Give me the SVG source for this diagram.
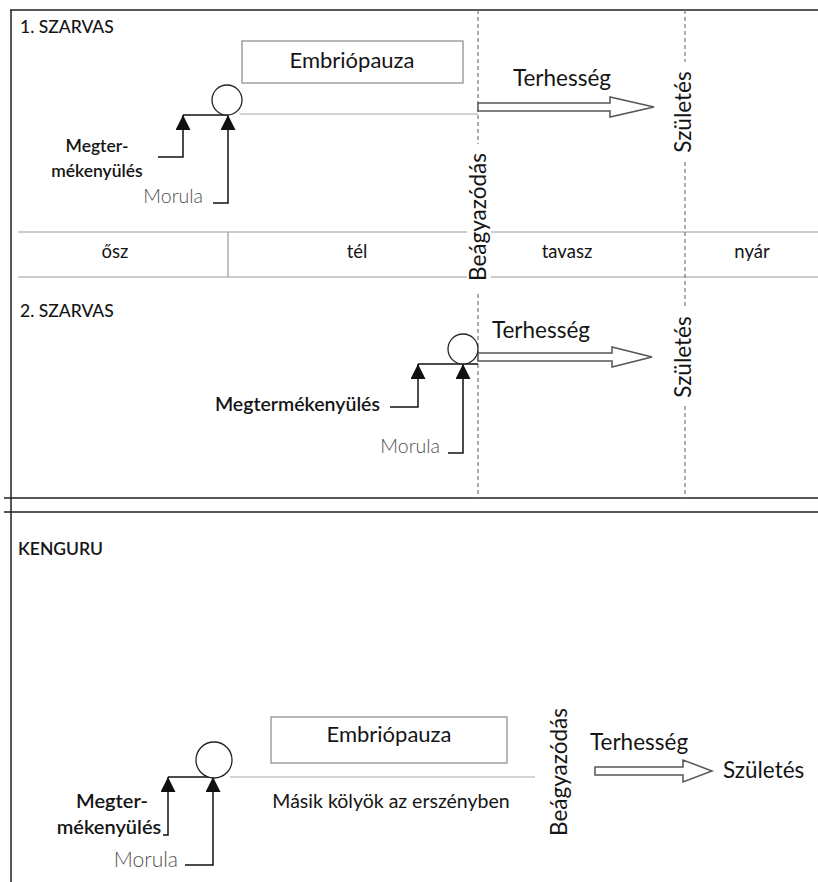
<svg xmlns="http://www.w3.org/2000/svg" width="818" height="882" viewBox="0 0 818 882">
<style>
.t{font-family:Lato,"Open Sans","Liberation Sans",sans-serif;fill:#151515}
.h{font-size:17.5px;font-weight:500}
.big{font-size:22.5px}
.mid{font-size:22px}
.sea{font-size:18.5px}
.b{font-size:17.5px;font-weight:600}
.g{font-size:19.5px;font-weight:300;fill:#505050}
.frame{stroke:#222;stroke-width:1.5;fill:none}
.band{stroke:#999;stroke-width:1.2;fill:none}
.dash{stroke:#777;stroke-width:1.2;stroke-dasharray:4 3;fill:none}
.ptr{stroke:#111;stroke-width:1.5;fill:none}
.thin{stroke:#aaa;stroke-width:1.2;fill:none}
.harrow{fill:#fff;stroke:#555;stroke-width:1.5}
.box{fill:#fff;stroke:#888;stroke-width:1.2}
.cell{fill:#fff;stroke:#222;stroke-width:1.3}
</style>
<defs>
<marker id="tri" markerUnits="userSpaceOnUse" markerWidth="16" markerHeight="16" refX="15" refY="7.5" orient="auto">
<path d="M0,0 L15,7.5 L0,15 z" fill="#111"/>
</marker>
</defs>
<rect width="818" height="882" fill="#fff"/>

<g id="frame">
<path class="frame" d="M10,10 H818 M11,10 V882"/>
<path class="frame" d="M4,498 H818 M4,512 H818" stroke="#444"/>
</g>

<g id="seasons">
<path class="band" d="M18,232 H818 M18,277 H818 M228,232 V277"/>
<text class="t sea" x="115" y="258" text-anchor="middle">ősz</text>
<text class="t sea" x="357" y="258" text-anchor="middle">tél</text>
<text class="t sea" x="567" y="258" text-anchor="middle">tavasz</text>
<text class="t sea" x="752" y="258" text-anchor="middle">nyár</text>
</g>

<g id="timelines">
<path class="dash" d="M478,10 V144 M478,294 V498"/>
<path class="dash" d="M685,10 V62 M685,162 V308 M685,406 V498"/>
</g>

<g id="connectors">
<path class="ptr" d="M183,115 H227"/>
<path class="thin" d="M240,114 H478"/>
<path class="ptr" d="M158,157 H183 V115" marker-end="url(#tri)"/>
<path class="ptr" d="M213,203 H228 V115" marker-end="url(#tri)"/>
<polygon class="harrow" points="478,103 610,103 610,97 654,107 610,117 610,111 478,111"/>

<path class="ptr" d="M418,364 H478"/>
<path class="ptr" d="M390,407 H418 V364" marker-end="url(#tri)"/>
<path class="ptr" d="M448,453 H463 V364" marker-end="url(#tri)"/>
<polygon class="harrow" points="478,353 612,353 612,347 652,357 612,367 612,361 478,361"/>

<path class="ptr" d="M168,777 H214"/>
<path class="thin" d="M230,777 H535"/>
<path class="ptr" d="M163,835 H168 V777" marker-end="url(#tri)"/>
<path class="ptr" d="M185,865 H213 V777" marker-end="url(#tri)"/>
<polygon class="harrow" points="595,767 683,767 683,760 712,771 683,782 683,775 595,775"/>
</g>

<g id="szarvas1">
<text class="t h" x="20" y="33">1. SZARVAS</text>
<g id="s1-embriopauza">
<rect class="box" x="242" y="41" width="221" height="42"/>
<text class="t mid" x="352" y="68" text-anchor="middle">Embriópauza</text>
</g>
<circle id="s1-cell" class="cell" cx="227" cy="100" r="15"/>
<text id="s1-megter" class="t b" text-anchor="middle"><tspan x="97" y="152">Megter-</tspan><tspan x="97" y="177">mékenyülés</tspan></text>
<text id="s1-morula" class="t g" x="203" y="203" text-anchor="end">Morula</text>
<text id="s1-terhesseg" class="t big" x="562" y="86" text-anchor="middle">Terhesség</text>
<g id="s1-beagyazodas">
<rect x="467" y="150" width="24" height="134" fill="#fff"/>
<text class="t big" transform="translate(486,217) rotate(-90)" text-anchor="middle">Beágyazódás</text>
</g>
<text id="s1-szuletes" class="t big" transform="translate(691,112) rotate(-90)" text-anchor="middle">Születés</text>
</g>

<g id="szarvas2">
<text class="t h" x="20" y="317">2. SZARVAS</text>
<circle id="s2-cell" class="cell" cx="463" cy="349" r="15"/>
<text id="s2-megter" class="t b" x="380" y="411" text-anchor="end" style="font-size:19.5px">Megtermékenyülés</text>
<text id="s2-morula" class="t g" x="440" y="453" text-anchor="end">Morula</text>
<text id="s2-terhesseg" class="t big" x="541" y="338" text-anchor="middle">Terhesség</text>
<text id="s2-szuletes" class="t big" transform="translate(691,357) rotate(-90)" text-anchor="middle">Születés</text>
</g>

<g id="kenguru">
<text class="t h" x="18" y="555" style="font-weight:600">KENGURU</text>
<circle id="k-cell" class="cell" cx="214" cy="760" r="18"/>
<g id="k-embriopauza">
<rect class="box" x="271" y="717" width="236" height="46"/>
<text class="t mid" x="389" y="742" text-anchor="middle">Embriópauza</text>
</g>
<text id="k-masik" class="t" x="391" y="808" text-anchor="middle" style="font-size:19.5px">Másik kölyök az erszényben</text>
<text id="k-megter" class="t b" text-anchor="middle" style="font-size:20px"><tspan x="112" y="808">Megter-</tspan><tspan x="109" y="834">mékenyülés</tspan></text>
<text id="k-morula" class="t g" x="178" y="867" text-anchor="end" style="font-size:21px">Morula</text>
<text id="k-beagyazodas" class="t big" transform="translate(567,772) rotate(-90)" text-anchor="middle">Beágyazódás</text>
<text id="k-terhesseg" class="t big" x="590" y="750">Terhesség</text>
<text id="k-szuletes" class="t big" x="723" y="778">Születés</text>
</g>
</svg>
